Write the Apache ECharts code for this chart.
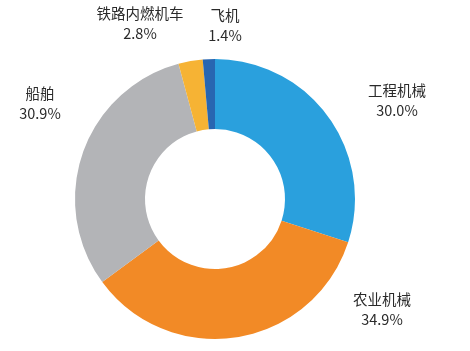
<!DOCTYPE html>
<html><head><meta charset="utf-8">
<script src="https://cdn.jsdelivr.net/npm/echarts@6/dist/echarts.min.js"></script>
<style>html,body{margin:0;padding:0;background:#fff;}#c{width:470px;height:351px;}</style>
</head><body><div id="c"></div>
<script>
const categories = ['工程机械', '农业机械', '船舶', '铁路内燃机车', '飞机'];
const values = [30.0, 34.9, 30.9, 2.8, 1.4];
const colors = ['#2aa0dd', '#f28a26', '#b3b4b7', '#f6b334', '#2866b1'];
const labelPos = [[397, 100], [382, 309], [40, 103], [140, 23], [225, 25]];

const chart = echarts.init(document.getElementById('c'));
chart.setOption({
  animation: false,
  series: [{
    type: 'pie',
    center: [215, 199],
    radius: [70, 140],
    startAngle: 90,
    clockwise: true,
    data: categories.map((n, i) => ({ name: n, value: values[i], itemStyle: { color: colors[i] } })),
    label: {
      show: true,
      position: 'outside',
      formatter: p => p.name + '\n' + p.value.toFixed(1) + '%',
      fontSize: 14.5,
      lineHeight: 20,
      color: '#2a2a2a',
      fontFamily: 'Noto Sans CJK SC',
      align: 'center',
      overflow: 'none',
      width: 200
    },
    labelLine: { show: false },
    labelLayout: p => ({ x: labelPos[p.dataIndex][0], y: labelPos[p.dataIndex][1], align: 'center', verticalAlign: 'middle' }),
    emphasis: { disabled: true }
  }]
});
</script></body></html>
